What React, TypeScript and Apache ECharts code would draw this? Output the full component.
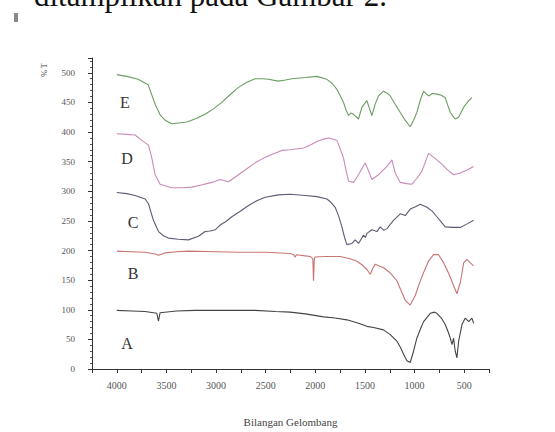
import React, { useEffect, useRef } from "react";
import * as echarts from "echarts";

// Wavenumber (cm-1) / %T pairs
const spectrumE: [number, number][] = [
  [4000, 497], [3900, 494], [3785, 489], [3685, 480], [3614, 447], [3560, 428], [3513, 420], [3446, 414],
  [3294, 417], [3200, 423], [3110, 430], [3020, 440], [2942, 450], [2860, 463], [2777, 475], [2690, 484],
  [2606, 490], [2530, 490], [2472, 489], [2374, 486], [2300, 488], [2236, 490], [2102, 492], [1984, 494],
  [1883, 489], [1830, 482], [1782, 472], [1745, 460], [1716, 450], [1690, 437], [1665, 428], [1640, 432],
  [1615, 430], [1590, 426], [1565, 422], [1530, 442], [1480, 453], [1455, 440], [1430, 428], [1395, 448],
  [1363, 461], [1313, 469], [1280, 466], [1245, 461], [1195, 447], [1144, 433], [1095, 420], [1044, 409],
  [1010, 420], [977, 433], [940, 455], [909, 469], [885, 465], [859, 461], [820, 465], [775, 464],
  [730, 462], [691, 458], [665, 445], [640, 433], [610, 426], [590, 422], [556, 425], [505, 442],
  [460, 452], [422, 458]
];
const spectrumD: [number, number][] = [
  [4000, 397], [3900, 396], [3816, 395], [3748, 386], [3681, 378], [3647, 356], [3614, 328], [3564, 312],
  [3446, 306], [3340, 306], [3244, 307], [3140, 311], [3042, 315], [2959, 320], [2875, 316], [2774, 328],
  [2690, 338], [2606, 348], [2520, 356], [2438, 362], [2337, 369], [2253, 370], [2119, 373], [2050, 378],
  [1984, 384], [1920, 388], [1867, 390], [1782, 386], [1750, 372], [1716, 356], [1690, 335], [1665, 317],
  [1615, 315], [1565, 328], [1497, 348], [1465, 335], [1430, 320], [1363, 328], [1278, 342], [1228, 353],
  [1195, 331], [1144, 315], [1080, 313], [1027, 312], [975, 322], [926, 334], [890, 350], [859, 364],
  [820, 359], [775, 353], [720, 345], [674, 337], [607, 328], [539, 331], [470, 336], [405, 342]
];
const spectrumC: [number, number][] = [
  [4000, 298], [3900, 296], [3816, 293], [3715, 287], [3681, 279], [3631, 251], [3580, 232], [3530, 225],
  [3480, 221], [3380, 219], [3278, 218], [3177, 224], [3110, 232], [3060, 233], [3009, 235], [2959, 243],
  [2900, 249], [2841, 257], [2760, 266], [2673, 276], [2590, 284], [2505, 290], [2371, 294], [2253, 295],
  [2102, 293], [1984, 291], [1883, 287], [1840, 281], [1800, 273], [1765, 258], [1732, 240], [1705, 222],
  [1682, 210], [1631, 212], [1598, 218], [1565, 212], [1514, 226], [1495, 222], [1480, 229], [1430, 235],
  [1379, 232], [1346, 240], [1310, 234], [1278, 237], [1245, 244], [1212, 251], [1180, 256], [1144, 262],
  [1094, 259], [1044, 270], [990, 274], [943, 278], [875, 273], [820, 266], [775, 257], [730, 248],
  [691, 240], [620, 239], [539, 239], [470, 245], [405, 251]
];
const spectrumB: [number, number][] = [
  [4000, 199], [3850, 198], [3715, 197], [3614, 194], [3580, 192], [3513, 196], [3400, 198], [3278, 199],
  [3000, 198], [2774, 197], [2500, 197], [2253, 195], [2220, 193], [2203, 189], [2190, 193], [2100, 191],
  [2051, 190], [2025, 186], [2018, 149], [2010, 186], [2001, 189], [1900, 190], [1749, 190], [1650, 186],
  [1581, 182], [1530, 176], [1480, 168], [1447, 160], [1420, 170], [1396, 177], [1355, 174], [1313, 171],
  [1250, 163], [1178, 149], [1130, 130], [1094, 116], [1044, 108], [993, 124], [950, 145], [909, 163],
  [860, 182], [809, 193], [758, 193], [710, 180], [674, 168], [640, 155], [607, 141], [573, 127],
  [539, 146], [505, 179], [472, 185], [438, 179], [405, 174]
];
const spectrumA: [number, number][] = [
  [4000, 99], [3850, 98], [3715, 97], [3597, 94], [3580, 81], [3564, 95], [3400, 98], [3211, 99],
  [2900, 99], [2606, 99], [2400, 97], [2253, 96], [2100, 93], [1917, 88], [1800, 86], [1682, 83],
  [1580, 78], [1480, 72], [1413, 70], [1313, 66], [1245, 58], [1178, 47], [1140, 36], [1111, 25],
  [1077, 14], [1044, 11], [1010, 30], [977, 52], [940, 68], [909, 80], [842, 94], [800, 96], [775, 94],
  [730, 86], [691, 75], [660, 62], [640, 52], [623, 41], [607, 52], [590, 30], [573, 19], [556, 47],
  [522, 75], [489, 86], [455, 80], [422, 86], [405, 77]
];

const seriesNames = ["A", "B", "C", "D", "E"];
const seriesColors = ["#444444", "#c87474", "#5c5c74", "#c98ab8", "#6a9d60"];
const seriesData = [spectrumA, spectrumB, spectrumC, spectrumD, spectrumE];

const xTitle = "Bilangan Gelombang";
const yTitle = "% T";
const headerText = "ditampilkan pada Gambar 2.";

const letterPositions: [string, number, number][] = [
  ["E", 125, 102],
  ["D", 127, 158],
  ["C", 133, 222],
  ["B", 133, 273],
  ["A", 127, 343],
];

export default function App() {
  const ref = useRef<HTMLDivElement>(null);
  useEffect(() => {
    if (!ref.current) return;
    const chart = echarts.init(ref.current, null, { renderer: "svg" });
    const serif = "serif";
    chart.setOption({
      animation: false,
      backgroundColor: "#ffffff",
      grid: { left: 92, right: 66, top: 58, bottom: 56, containLabel: false },
      xAxis: {
        type: "value",
        inverse: true,
        min: 250,
        max: 4250,
        interval: 250,
        name: xTitle,
        nameLocation: "middle",
        nameGap: 47,
        nameTextStyle: { fontFamily: serif, fontSize: 11, color: "#444" },
        axisLine: { show: true, onZero: false, lineStyle: { color: "#333", width: 1 } },
        axisTick: { show: true, length: 4, lineStyle: { color: "#333" } },
        axisLabel: {
          fontFamily: serif,
          fontSize: 10,
          color: "#555",
          margin: 11,
          formatter: (v: number) => (v % 500 === 0 ? String(v) : ""),
        },
        splitLine: { show: false },
      },
      yAxis: {
        type: "value",
        min: 0,
        max: 525,
        interval: 50,
        axisLine: { show: true, lineStyle: { color: "#333", width: 1 } },
        axisTick: { show: true, length: 4, lineStyle: { color: "#333" } },
        minorTick: { show: true, splitNumber: 5, length: 2, lineStyle: { color: "#555" } },
        axisLabel: {
          fontFamily: serif,
          fontSize: 9,
          color: "#555",
          margin: 17,
          formatter: (v: number) => (v % 50 === 0 ? String(v) : ""),
        },
        splitLine: { show: false },
      },
      series: seriesData.map((d, i) => ({
        type: "line",
        name: seriesNames[i],
        data: d,
        showSymbol: false,
        symbol: "none",
        smooth: false,
        lineStyle: { color: seriesColors[i], width: 1.1 },
      })),
      graphic: [
        {
          type: "text",
          left: 34,
          top: -20,
          style: { text: headerText, fontFamily: serif, fontSize: 31, fill: "#111" },
        },
        { type: "rect", shape: { x: 14, y: 13, width: 4, height: 9 }, style: { fill: "#888" } },
        {
          type: "text",
          x: 44,
          y: 70,
          rotation: Math.PI / 2,
          style: { text: yTitle, fontFamily: serif, fontSize: 8, fill: "#444", align: "center", verticalAlign: "middle" },
        },
        ...letterPositions.map(([t, x, y]) => ({
          type: "text",
          x,
          y,
          style: { text: t, fontFamily: serif, fontSize: 16, fill: "#333", align: "center", verticalAlign: "middle" },
        })),
      ],
    });
    return () => chart.dispose();
  }, []);
  return <div ref={ref} style={{ position: "fixed", left: 0, top: 0, width: 555, height: 432 }} />;
}
